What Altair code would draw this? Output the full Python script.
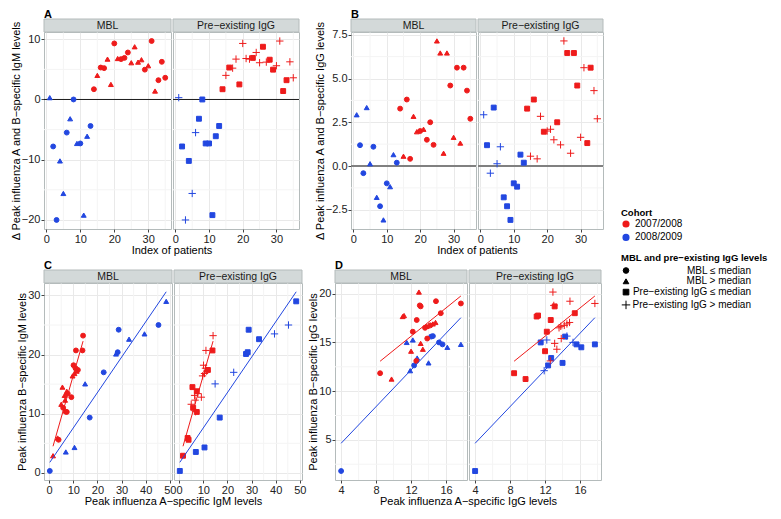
import altair as alt
import pandas as pd

FONT = "Liberation Sans"
RED = "#EE1B1B"
BLUE = "#2247E0"
STRIP_FILL = "#D3D9D9"
BORDER = "#B4BBBB"
GRID = "#E9E9E9"
MINOR = "#F4F4F4"

COHORTS = ["2007/2008", "2008/2009"]
COHORT_CODE = {"r": "2007/2008", "b": "2008/2009"}
SHAPE_LABELS = ["MBL ≤ median", "MBL > median",
                "Pre−existing IgG ≤ median", "Pre−existing IgG > median"]
PLUS_PATH = "M-1.5,0H1.5M0,-1.5V1.5"
SHAPE_RANGE = ["circle", "triangle-up", "square", PLUS_PATH]
MBL_CODE = {"c": SHAPE_LABELS[0], "t": SHAPE_LABELS[1]}
IGG_CODE = {"s": SHAPE_LABELS[2], "p": SHAPE_LABELS[3]}
STRIP_LABELS = ["MBL", "Pre−existing IgG"]
LETTERS = ["A", "B", "C", "D"]

# ---------------- Panels A & B (per patient) ----------------
patient_index = list(range(1, 36))
ab_cohort = ["b"] * 13 + ["r"] * 22
ab_mbl = ["t", "c", "c", "t", "t", "c", "t", "c", "t", "c", "t", "t", "c",
          "c", "t", "c", "c", "t", "t", "c", "t", "c", "c", "c", "t", "t",
          "t", "t", "c", "t", "c", "t", "c", "c", "c"]
ab_igg = ["p", "s", "p", "s", "p", "p", "s", "s", "s", "s", "s", "s", "s",
          "s", "p", "s", "p", "p", "s", "p", "p", "p", "s", "p", "p", "s",
          "p", "s", "s", "p", "p", "s", "s", "p", "p"]
delta_igm = [0.3, -7.8, -20.0, -10.2, -15.6, -5.5, -3.2, 0.0, -7.3, -7.3,
             -19.2, -6.1, -4.4,
             1.7, 4.0, 5.3, 5.2, 6.7, 2.5, 9.3, 6.8, 6.7, 6.9, 7.8, 6.1,
             8.75, 6.2, 6.6, 4.95, 5.6, 9.7, 1.4, 3.2, 6.25, 3.6]
delta_igg = [2.93, 1.19, -0.41, 3.34, 0.13, 1.1, -1.79, -2.3, -3.08, -0.99,
             -1.18, 0.65, 0.19,
             3.28, 0.56, 3.8, 0.41, 2.84, 1.96, 2.0, 2.1, 1.5, 2.5, 1.21,
             7.15, 6.46, 0.73, 6.46, 4.6, 1.64, 5.62, 1.31, 5.62, 4.31, 2.7]

# ---------------- Panel C (IgM A vs B) ----------------
c_cohort = ["b"] * 13 + ["r"] * 22
c_x = [0.27, 6.9, 10.5, 16.8, 14.9, 22.6, 27.7, 28.4, 28.8, 33.1, 39.5, 45.3, 48.5,
       1.6, 3.5, 3.9, 5.0, 5.5, 5.8, 6.8, 7.3, 6.6, 7.3, 7.7, 9.2, 6.4,
       10.1, 9.7, 10.9, 11.9, 11.1, 13.8, 14.05, 10.5, 11.4]
c_y = [0.33, 3.54, 4.3, 9.35, 15.05, 17.0, 20.1, 20.4, 24.2, 22.6, 23.5, 25.0, 29.0,
       2.9, 5.9, 5.6, 11.6, 14.5, 11.0, 10.35, 10.3, 12.3, 13.8, 13.4, 12.8, 13.1,
       18.2, 16.4, 17.7, 17.4, 20.7, 20.7, 23.2, 16.8, 17.2]
c_mbl = ["c", "t", "t", "c", "t", "c", "t", "c", "c", "t", "t", "c", "t",
         "t", "t", "c", "t", "t", "c", "c", "c", "t", "t", "c", "c", "t",
         "c", "t", "c", "c", "c", "c", "c", "t", "t"]
c_igg = ["s", "s", "s", "s", "p", "p", "s", "s", "s", "s", "p", "p", "s",
         "s", "s", "s", "p", "s", "s", "p", "s", "p", "s", "p", "p", "p",
         "p", "p", "p", "s", "p", "s", "p", "p", "p"]

# ---------------- Panel D (IgG A vs B) ----------------
d_cohort = ["b"] * 13 + ["r"] * 22
d_x = [4.0, 11.5, 11.9, 12.2, 12.35, 12.7, 14.0, 14.3, 14.5, 15.2, 15.6, 16.15, 17.7,
       8.46, 12.2, 12.65, 13.1, 15.4, 9.77, 11.04, 11.2, 12.0,
       12.9, 13.1, 13.35, 13.8, 14.5, 14.8,
       13.0, 14.85, 17.7, 13.85, 13.6, 14.2, 12.6]
d_y = [1.8, 15.0, 12.1, 15.25, 12.64, 13.4, 12.9, 15.6, 15.65, 15.0, 14.8, 14.5, 14.8,
       11.84, 16.1, 17.3, 18.7, 18.0, 11.24, 17.66, 17.76, 14.1,
       20.17, 14.9, 14.3, 16.65, 16.9, 17.05,
       18.8, 19.23, 19.0, 15.4, 16.5, 16.75, 13.1]
d_mbl = ["c", "t", "t", "t", "c", "t", "t", "c", "c", "c", "c", "t", "t",
         "c", "c", "c", "c", "c", "t", "t", "t", "t",
         "t", "t", "t", "t", "t", "t",
         "c", "c", "c", "c", "c", "c", "c"]
d_igg = ["s", "s", "p", "p", "s", "s", "s", "s", "p", "p", "s", "s", "s",
         "s", "s", "s", "s", "s", "s", "s", "s", "s",
         "p", "p", "p", "p", "p", "p",
         "p", "p", "p", "p", "p", "p", "p"]


def facet_frames(x, y, cohort, mbl, igg):
    base = pd.DataFrame({"x": x, "y": y,
                         "cohort": [COHORT_CODE[c] for c in cohort]})
    left = base.assign(shape=[MBL_CODE[m] for m in mbl])
    right = base.assign(shape=[IGG_CODE[g] for g in igg])
    return left, right


color_scale = alt.Scale(domain=COHORTS, range=[RED, BLUE])
shape_scale = alt.Scale(domain=SHAPE_LABELS, range=SHAPE_RANGE)

# legend positions are relative to the first plot's origin
cohort_legend = alt.Legend(
    title="Cohort", orient="none", legendX=577, legendY=176,
    titleFontSize=9.5, titleFontWeight="bold", titleColor="#000",
    labelFontSize=10, labelColor="#000", symbolType="circle", symbolSize=32,
    rowPadding=1.4, titlePadding=1.5, labelOffset=4)
shape_legend = alt.Legend(
    title="MBL and pre−existing IgG levels", orient="none",
    legendX=577, legendY=221,
    titleFontSize=9.5, titleFontWeight="bold", titleColor="#000",
    labelFontSize=10, labelColor="#000", symbolSize=32,
    symbolFillColor="black", symbolStrokeColor="black", symbolStrokeWidth=1,
    labelAlign="right", labelOffset=120, rowPadding=0.8, titlePadding=3)

STRIP_H = 13


def make_panel(frames, widths, height, xdom, ydom, xticks, yticks, xminor,
               yminor, ytitle, xtitle, letter, yfmt=None, zero=None,
               reg=False):
    charts = []
    for k, (df, w) in enumerate(zip(frames, widths)):
        xs = alt.Scale(domain=xdom, nice=False, zero=False)
        ys = alt.Scale(domain=ydom, nice=False, zero=False)
        if k == 0:
            xaxis = alt.Axis(values=xticks, title=xtitle, grid=True,
                             titleX=(widths[0] + 2 + widths[1]) / 2)
            ykw = dict(values=yticks, title=ytitle, grid=True)
            if yfmt:
                ykw["format"] = yfmt
            yaxis = alt.Axis(**ykw)
        else:
            xaxis = alt.Axis(values=xticks, title=None, grid=True)
            yaxis = alt.Axis(values=yticks, title=None, labels=False,
                             ticks=False, grid=True)
        layers = [
            alt.Chart(pd.DataFrame({"v": xminor})).mark_rule(
                color=MINOR, strokeWidth=1).encode(
                x=alt.X("v:Q", scale=xs, axis=xaxis)),
            alt.Chart(pd.DataFrame({"v": yminor})).mark_rule(
                color=MINOR, strokeWidth=1).encode(
                y=alt.Y("v:Q", scale=ys, axis=yaxis)),
        ]
        if zero is not None:
            layers.append(
                alt.Chart(pd.DataFrame({"v": [0]})).mark_rule(
                    color=zero[0], strokeWidth=zero[1]).encode(
                    y=alt.Y("v:Q", scale=ys, axis=yaxis)))
        layers.append(
            alt.Chart(df).mark_point(filled=True, size=24, strokeWidth=1,
                                     opacity=1).encode(
                x=alt.X("x:Q", scale=xs, axis=xaxis),
                y=alt.Y("y:Q", scale=ys, axis=yaxis),
                fill=alt.Fill("cohort:N", scale=color_scale,
                              legend=cohort_legend),
                stroke=alt.Stroke("cohort:N", scale=color_scale, legend=None),
                shape=alt.Shape("shape:N", scale=shape_scale,
                                legend=shape_legend),
            ))
        if reg:
            layers.append(
                alt.Chart(df).transform_regression(
                    "x", "y", groupby=["cohort"]).mark_line(
                    strokeWidth=1).encode(
                    x=alt.X("x:Q", scale=xs, axis=xaxis),
                    y=alt.Y("y:Q", scale=ys, axis=yaxis),
                    stroke=alt.Stroke("cohort:N", scale=color_scale,
                                      legend=None)))
        sdf = pd.DataFrame({"label": [STRIP_LABELS[k]]})
        layers.append(
            alt.Chart(sdf).mark_rect(fill=STRIP_FILL, stroke=BORDER,
                                     strokeWidth=1).encode(
                x=alt.value(0), x2=alt.value(w),
                y=alt.value(-STRIP_H), y2=alt.value(0)))
        layers.append(
            alt.Chart(sdf).mark_text(fontSize=10.5, color="#1a1a1a",
                                     baseline="middle", font=FONT).encode(
                x=alt.value(w / 2), y=alt.value(-STRIP_H / 2 + 0.5),
                text="label:N"))
        if k == 0:
            ldf = pd.DataFrame({"letter": [letter]})
            layers.append(
                alt.Chart(ldf).mark_text(
                    fontSize=11, fontWeight="bold", color="#000",
                    align="left", baseline="alphabetic", font=FONT).encode(
                    x=alt.value(0), y=alt.value(-STRIP_H - 1.5),
                    text="letter:N"))
        ch = alt.layer(*layers).properties(width=w, height=height)
        charts.append(ch)
    return alt.hconcat(*charts, spacing=2, bounds="flush")


a_frames = facet_frames(patient_index, delta_igm, ab_cohort, ab_mbl, ab_igg)
b_frames = facet_frames(patient_index, delta_igg, ab_cohort, ab_mbl, ab_igg)
c_frames = facet_frames(c_x, c_y, c_cohort, c_mbl, c_igg)
d_frames = facet_frames(d_x, d_y, d_cohort, d_mbl, d_igg)

H = 197
panel_a = make_panel(a_frames, [127, 126], H, [-0.7, 36.7], [-21.5, 11.2],
                     [0, 10, 20, 30], [-20, -10, 0, 10], [5, 15, 25, 35],
                     [-15, -5, 5],
                     "Δ Peak influenza A and B−specific IgM levels",
                     "Index of patients", LETTERS[0],
                     zero=("#1a1a1a", 1))
panel_b = make_panel(b_frames, [125, 125], H, [-0.7, 36.7], [-3.6, 7.66],
                     [0, 10, 20, 30], [-2.5, 0, 2.5, 5, 7.5],
                     [5, 15, 25, 35], [-1.25, 1.25, 3.75, 6.25],
                     "Δ Peak influenza A and B−specific IgG levels",
                     "Index of patients", LETTERS[1], yfmt=".1f",
                     zero=("#808080", 2))
panel_c = make_panel(c_frames, [128, 128], H, [-2.14, 50.9], [-1.2, 32.1],
                     [0, 10, 20, 30, 40, 50], [0, 10, 20, 30],
                     [5, 15, 25, 35, 45], [5, 15, 25],
                     "Peak influenza B−specific IgM levels",
                     "Peak influenza A−specific IgM levels", LETTERS[2],
                     reg=True)
panel_d = make_panel(d_frames, [132, 132], H, [3.3, 18.4], [0.88, 21.1],
                     [4, 8, 12, 16], [5, 10, 15, 20], [6, 10, 14, 18],
                     [2.5, 7.5, 12.5, 17.5],
                     "Peak influenza B−specific IgG levels",
                     "Peak influenza A−specific IgG levels", LETTERS[3],
                     reg=True)

row1 = alt.hconcat(panel_a, panel_b, spacing=13)
row2 = alt.hconcat(panel_c, panel_d, spacing=0)

chart = alt.vconcat(row1, row2, spacing=3).properties(
    padding={"left": 1, "top": 0, "right": 0, "bottom": 0},
).configure(font=FONT).configure_view(
    stroke=BORDER, strokeWidth=1
).configure_axis(
    labelFont=FONT, titleFont=FONT, labelFontSize=11, labelColor="#222",
    titleFontSize=11, titleFontWeight="normal", titleColor="#000",
    tickColor="#444", tickSize=3, labelPadding=1, domain=False,
    gridColor=GRID, titlePadding=0
).configure_legend(
    labelFont=FONT, titleFont=FONT
).configure_title(font=FONT)

chart.save("out.html", embed_options={"renderer": "svg", "actions": False})
